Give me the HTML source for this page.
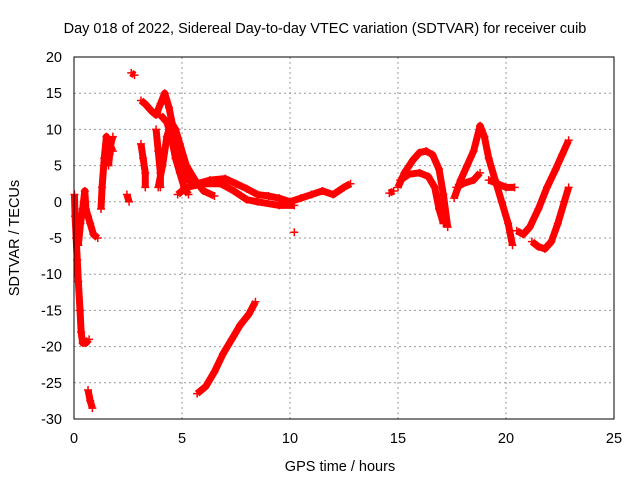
<!DOCTYPE html>
<html><head><meta charset="utf-8"><style>
body{margin:0;background:#fff}
svg{display:block;font-family:"Liberation Sans",sans-serif}
</style></head><body>
<svg id="c" width="640" height="480">
<text x="325" y="33" text-anchor="middle" font-size="14.5">Day 018 of 2022, Sidereal Day-to-day VTEC variation (SDTVAR) for receiver cuib</text>
<text x="340" y="471" text-anchor="middle" font-size="14.5">GPS time / hours</text>
<text transform="translate(19,238) rotate(-90)" text-anchor="middle" font-size="14.5">SDTVAR / TECUs</text>
<g id="grid"></g><g id="marks"></g>
<rect x="74" y="57" width="540" height="362" fill="none" stroke="#000"/>
</svg>
<script>
const xTicks=[0,5,10,15,20,25];
const yTicks=[-30,-25,-20,-15,-10,-5,0,5,10,15,20];
const tracks=[
[[0.02,1],[0.05,-2],[0.1,-5],[0.15,-8],[0.2,-11],[0.28,-15],[0.33,-18],[0.4,-19.5],[0.55,-19.5],[0.7,-19]],
[[0.2,-6],[0.3,-3],[0.4,-1],[0.5,1.5],[0.55,-1],[0.65,-2],[0.75,-3],[0.9,-4.5],[1.1,-5]],
[[0.65,-26],[0.75,-27.5],[0.85,-28.5]],
[[1.25,-1],[1.3,2],[1.4,6],[1.5,9],[1.65,8],[1.8,7]],
[[1.6,5],[1.7,8],[1.8,9]],
[[2.65,17.8],[2.8,17.5]],
[[2.45,1],[2.55,0]],
[[3.1,14],[3.3,13.5],[3.6,12.5],[3.8,12],[4.0,13.5],[4.2,15],[4.4,13],[4.6,10],[4.8,7],[5.0,5],[5.3,3],[5.7,2.5],[6.3,3],[7,3.2],[7.5,2.5],[8,1.8],[8.5,1],[9,0.8],[9.5,0.5],[10,0],[10.5,0.5],[11,1],[11.5,1.5],[12,1],[12.5,2],[12.8,2.5]],
[[3.1,8],[3.2,6],[3.3,4],[3.3,2]],
[[3.8,10],[3.9,7],[4.0,4],[4.0,2]],
[[3.9,2],[4.1,5],[4.3,9],[4.5,11],[4.7,10],[4.9,8],[5.2,5],[5.6,3],[6,1.5],[6.5,0.8]],
[[4.0,12],[4.3,11],[4.5,9],[4.7,6],[4.9,4],[5.1,2],[5.3,1]],
[[4.8,1],[5.2,2],[6,2.5],[6.8,2.5],[7.4,1.5],[8,0.3],[8.5,0],[9.5,-0.5],[10.2,-0.5]],
[[5.7,-26.5],[6.1,-25.5],[6.5,-23.5],[6.9,-21],[7.3,-19],[7.7,-17],[8.1,-15.5],[8.4,-13.8]],
[[10.2,-4.2]],
[[14.6,1.2],[14.8,1.5]],
[[15,2],[15.3,4],[15.7,5.8],[16,6.8],[16.3,7],[16.6,6.5],[16.9,4.5],[17.1,1],[17.3,-3.5]],
[[15.1,3],[15.5,3.8],[16,4],[16.4,3.5],[16.7,2],[16.9,-1],[17.1,-3]],
[[17.6,0.5],[17.9,3],[18.2,5],[18.5,7],[18.8,10.5],[19,9],[19.2,6],[19.5,3],[19.8,0],[20.1,-3],[20.3,-6]],
[[17.7,2],[18,2.5],[18.5,3],[18.8,4]],
[[19.2,3],[19.6,2.5],[20,2],[20.4,2]],
[[20.5,-4],[20.8,-4.5],[21.1,-3.5],[21.5,-1],[21.9,2],[22.3,4.5],[22.6,6.5],[22.9,8.5]],
[[21.2,-5.5],[21.5,-6.2],[21.8,-6.5],[22.1,-5.5],[22.4,-3],[22.7,0],[22.9,2]]
];
const X=v=>74+v*21.6, Y=v=>57+(20-v)*7.24;
const NS='http://www.w3.org/2000/svg';
const grid=document.getElementById('grid'), marks=document.getElementById('marks'), svg=document.getElementById('c');
xTicks.forEach(t=>{
 if(t>0&&t<25){const l=document.createElementNS(NS,'line');
 
 
 l.setAttribute('x1',X(t));l.setAttribute('x2',X(t));l.setAttribute('y1',57);l.setAttribute('y2',419);
 l.setAttribute('stroke','#999');l.setAttribute('stroke-dasharray','2,3');grid.appendChild(l);}
 const tx=document.createElementNS(NS,'text');
 
 
 tx.setAttribute('x',X(t));tx.setAttribute('y',443);tx.setAttribute('text-anchor','middle');tx.setAttribute('font-size','14.5');
 tx.textContent=t;svg.appendChild(tx);
});
yTicks.forEach(t=>{
 if(t>-30&&t<20){const l=document.createElementNS(NS,'line');
 
 
 l.setAttribute('x1',74);l.setAttribute('x2',614);l.setAttribute('y1',Y(t));l.setAttribute('y2',Y(t));
 l.setAttribute('stroke','#999');l.setAttribute('stroke-dasharray','2,3');grid.appendChild(l);}
 const tx=document.createElementNS(NS,'text');
 
 
 tx.setAttribute('x',62);tx.setAttribute('y',Y(t)+5);tx.setAttribute('text-anchor','end');tx.setAttribute('font-size','14.5');
 tx.textContent=t;svg.appendChild(tx);
});
tracks.forEach(tr=>{
 const p=document.createElementNS(NS,'polyline');
 
 
 p.setAttribute('points',tr.map(d=>X(d[0])+','+Y(d[1])).join(' '));
 p.setAttribute('fill','none');p.setAttribute('stroke','#f00');p.setAttribute('stroke-width','7');p.setAttribute('stroke-linejoin','round');
 marks.appendChild(p);
 tr.forEach(d=>{
  const m=document.createElementNS(NS,'path');
  
  
  const x=X(d[0]),y=Y(d[1]);
  m.setAttribute('d',`M${x-4},${y}h8M${x},${y-4}v8`);
  m.setAttribute('stroke','#f00');m.setAttribute('stroke-width','1.5');
  marks.appendChild(m);
 });
});
</script>
</body></html>
